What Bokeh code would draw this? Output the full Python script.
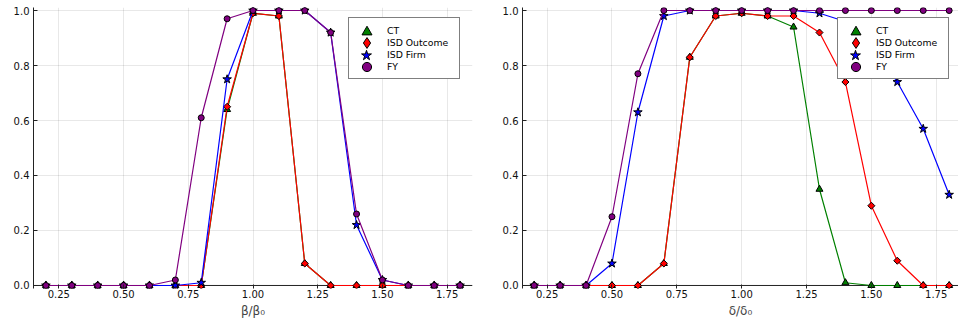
import math
from bokeh.plotting import figure
from bokeh.layouts import row
from bokeh.models import Range1d, FixedTicker, PrintfTickFormatter, Span, Legend, LegendItem
from bokeh.embed import file_html
from bokeh.resources import INLINE

# ---- data ----
x_vals = [0.2, 0.3, 0.4, 0.5, 0.6, 0.7, 0.8, 0.9, 1.0, 1.1, 1.2, 1.3, 1.4, 1.5, 1.6, 1.7, 1.8]
x_ticks = [0.25, 0.5, 0.75, 1.0, 1.25, 1.5, 1.75]
y_ticks = [0.0, 0.2, 0.4, 0.6, 0.8, 1.0]
series_names = ["CT", "ISD Outcome", "ISD Firm", "FY"]

beta_ct = [0, 0, 0, 0, 0, 0, 0, 0.64, 0.99, 0.98, 0.08, 0, 0, 0, 0, 0, 0]
beta_isd_outcome = [0, 0, 0, 0, 0, 0, 0, 0.65, 0.99, 0.98, 0.08, 0, 0, 0, 0, 0, 0]
beta_isd_firm = [0, 0, 0, 0, 0, 0, 0.01, 0.75, 1.0, 1.0, 1.0, 0.92, 0.22, 0.02, 0, 0, 0]
beta_fy = [0, 0, 0, 0, 0, 0.02, 0.61, 0.97, 1.0, 1.0, 1.0, 0.92, 0.26, 0.02, 0, 0, 0]

delta_ct = [0, 0, 0, 0, 0, 0.08, 0.83, 0.98, 0.99, 0.98, 0.94, 0.35, 0.01, 0, 0, 0, 0]
delta_isd_outcome = [0, 0, 0, 0, 0, 0.08, 0.83, 0.98, 0.99, 0.98, 0.98, 0.92, 0.74, 0.29, 0.09, 0, 0]
delta_isd_firm = [0, 0, 0, 0.08, 0.63, 0.98, 1.0, 1.0, 1.0, 1.0, 1.0, 0.99, 0.96, 0.87, 0.74, 0.57, 0.33]
delta_fy = [0, 0, 0, 0.25, 0.77, 1.0, 1.0, 1.0, 1.0, 1.0, 1.0, 1.0, 1.0, 1.0, 1.0, 1.0, 1.0]

# ---- styles ----
colors = ["#008000", "#ff0000", "#0000ff", "#800080"]
markers = ["triangle", "square", "star", "circle"]
angles = [0, math.pi / 4, 0, 0]
msizes = [7, 5, 9, 6]
legend_markers = ["triangle", "diamond", "star", "circle"]
legend_box = [25, 27, 26, 23]   # legend glyph box -> marker size = 0.4 * box
FONT = "DejaVu Sans"

H = 322
MB_TOP = 7
MB_BOTTOM = 34
FRAME_H = H - MB_TOP - MB_BOTTOM
LEG_X = 315        # legend left, px from frame left
LEG_TOP = 12       # legend top, px below frame top
LEG_PAD = 6
ROW_H = 12


def make_panel(series, xlabel, width, bl, br, xr):
    p = figure(width=width, height=H, output_backend="svg", toolbar_location=None,
               x_range=Range1d(*xr), y_range=Range1d(-0.011, 1.011),
               min_border_left=bl, min_border_right=br,
               min_border_top=MB_TOP, min_border_bottom=MB_BOTTOM)
    p.outline_line_color = None
    p.background_fill_color = "white"
    p.border_fill_color = "white"

    p.xaxis.ticker = FixedTicker(ticks=x_ticks)
    p.yaxis.ticker = FixedTicker(ticks=y_ticks)
    p.xaxis.formatter = PrintfTickFormatter(format="%.2f")
    p.yaxis.formatter = PrintfTickFormatter(format="%.1f")
    for ax in (p.xaxis[0], p.yaxis[0]):
        ax.major_tick_in = 4
        ax.major_tick_out = 0
        ax.minor_tick_line_color = None
        ax.major_tick_line_color = "#222222"
        ax.axis_line_color = "#222222"
        ax.major_label_text_font = FONT
        ax.major_label_text_font_size = "10px"
        ax.major_label_text_color = "#111111"
    p.yaxis.major_label_standoff = 4
    p.xaxis.major_label_standoff = 1
    p.xaxis.axis_line_color = None
    p.xaxis.axis_label = xlabel
    p.xaxis.axis_label_text_font = FONT
    p.xaxis.axis_label_text_font_size = "12px"
    p.xaxis.axis_label_text_font_style = "normal"
    p.xaxis.axis_label_standoff = 3

    p.xgrid.ticker = FixedTicker(ticks=x_ticks)
    p.ygrid.ticker = FixedTicker(ticks=y_ticks)
    p.grid.grid_line_color = "black"
    p.grid.grid_line_alpha = 0.09

    p.add_layout(Span(location=0, dimension="width", line_color="#222222",
                      line_width=1, level="underlay"))

    legend_glyphs = []
    label_items = []
    for name, ys, c, m, a, s, lm in zip(series_names, series, colors, markers,
                                        angles, msizes, legend_markers):
        p.line(x_vals, ys, line_color=c, line_width=1.2)
        p.scatter(x_vals, ys, marker=m, angle=a, size=s, fill_color=c,
                  line_color="black", line_width=1)
        # legend-only glyph (no data point is drawn)
        g = p.scatter([math.nan], [math.nan], marker=lm, fill_color=c,
                      line_color="black", line_width=1)
        legend_glyphs.append(g)
        # invisible placeholder so that the boxed legend only carries the labels
        d = p.scatter([math.nan], [math.nan], marker=lm, fill_alpha=0, line_alpha=0)
        label_items.append(LegendItem(label=name, renderers=[d]))

    n = len(series_names)
    box_h = 2 * LEG_PAD + n * ROW_H
    leg = Legend(items=label_items, location=(LEG_X, FRAME_H - LEG_TOP - box_h),
                 orientation="vertical", padding=LEG_PAD, spacing=0,
                 glyph_width=25, glyph_height=ROW_H, label_width=66,
                 label_height=ROW_H, label_standoff=7,
                 label_text_font=FONT, label_text_font_size="9.3px",
                 label_text_color="black", label_text_baseline="middle",
                 border_line_color="black", border_line_width=1,
                 background_fill_color="white", background_fill_alpha=1.0,
                 margin=0)
    p.add_layout(leg, "center")

    # marker legends, one per row, drawn on top of the boxed legend
    for i, (g, b) in enumerate(zip(legend_glyphs, legend_box)):
        cy = LEG_TOP + LEG_PAD + ROW_H * i + ROW_H / 2   # row centre below frame top
        cx = LEG_X + LEG_PAD + 12.5
        mleg = Legend(items=[LegendItem(label=" ", renderers=[g])],
                      location=(round(cx - b / 2), round(FRAME_H - cy - b / 2)),
                      padding=0, spacing=0, glyph_width=b, glyph_height=b,
                      label_width=0, label_height=0, label_standoff=0,
                      label_text_font_size="1px",
                      border_line_color=None, background_fill_alpha=0.0, margin=0)
        p.add_layout(mleg, "center")
    return p


p1 = make_panel([beta_ct, beta_isd_outcome, beta_isd_firm, beta_fy], "β/β₀",
                479, 33, 7, (0.152, 1.848))
p2 = make_panel([delta_ct, delta_isd_outcome, delta_isd_firm, delta_fy], "δ/δ₀",
                479, 43, 0, (0.155, 1.836))

layout = row(p1, p2)
open("out.html", "w").write(file_html(layout, INLINE))
